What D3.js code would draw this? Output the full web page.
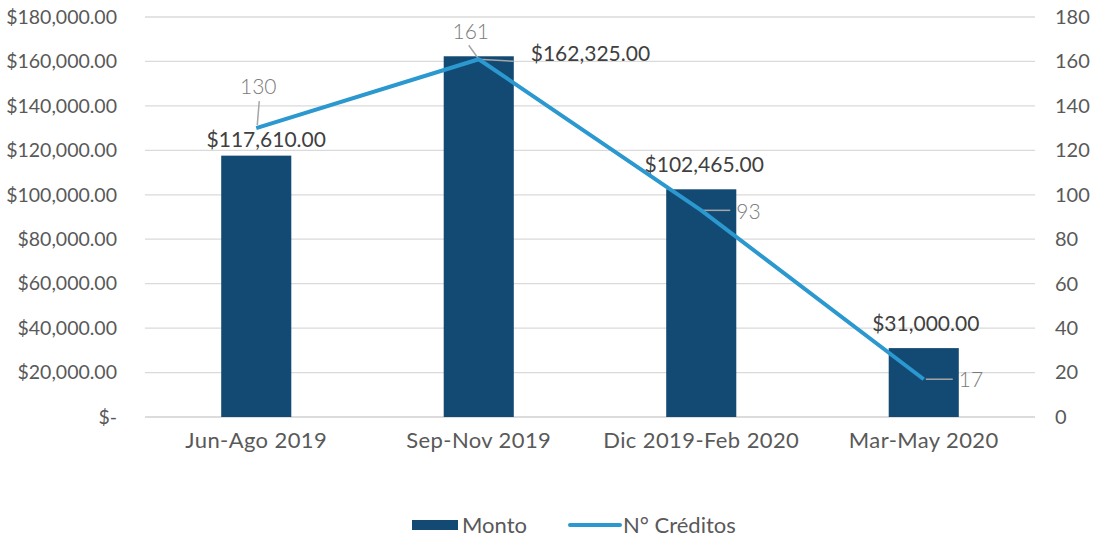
<!DOCTYPE html>
<html>
<head>
<meta charset="utf-8">
<title>Monto y N° Créditos</title>
<script src="https://cdn.jsdelivr.net/npm/d3@7"></script>
<style>
  body { margin: 0; background: #fff; }
  text { font-family: Lato, "Open Sans", sans-serif; }
</style>
</head>
<body>
<div id="chart"></div>
<script>
// data
var categories = ["Jun-Ago 2019", "Sep-Nov 2019", "Dic 2019-Feb 2020", "Mar-May 2020"];
var monto = [117610, 162325, 102465, 31000];
var creditos = [130, 161, 93, 17];
var leftTicks = [0, 20000, 40000, 60000, 80000, 100000, 120000, 140000, 160000, 180000];
var rightTicks = [0, 20, 40, 60, 80, 100, 120, 140, 160, 180];

var width = 1094, height = 539;
var plotLeft = 145, plotRight = 1035, plotTop = 17, plotBottom = 417;
var barColor = "#124a74", lineColor = "#2b98cf";

var svg = d3.select("#chart").append("svg")
  .attr("width", width)
  .attr("height", height);

var x = d3.scaleBand().domain(categories).range([plotLeft, plotRight]).paddingInner(0.685).paddingOuter(0.3425);
var yL = d3.scaleLinear().domain([0, 180000]).range([plotBottom, plotTop]);
var yR = d3.scaleLinear().domain([0, 180]).range([plotBottom, plotTop]);

var fmt = function(v) { return v === 0 ? "$-" : "$" + d3.format(",.2f")(v); };

// gridlines
svg.selectAll("line.grid").data(leftTicks).enter().append("line")
  .attr("class", "grid")
  .attr("x1", plotLeft).attr("x2", plotRight)
  .attr("y1", function(d) { return yL(d); })
  .attr("y2", function(d) { return yL(d); })
  .attr("stroke", function(d) { return d === 0 ? "#d0d0d0" : "#dadada"; })
  .attr("stroke-width", 1.3);

// left axis
var gl = svg.append("g").attr("transform", "translate(" + (plotLeft - 28) + ",0)")
  .call(d3.axisLeft(yL).tickValues(leftTicks).tickFormat(fmt).tickSize(0).tickPadding(0));
gl.select(".domain").remove();
gl.selectAll("text").attr("font-size", 19.5).attr("fill", "#595959").attr("font-family", "Lato, sans-serif");

// right axis
var gr = svg.append("g").attr("transform", "translate(" + (plotRight + 20) + ",0)")
  .call(d3.axisRight(yR).tickValues(rightTicks).tickSize(0).tickPadding(0));
gr.select(".domain").remove();
gr.selectAll("text").attr("font-size", 20).attr("fill", "#595959").attr("font-family", "Lato, sans-serif");

// bottom axis
var gb = svg.append("g").attr("transform", "translate(0," + plotBottom + ")")
  .call(d3.axisBottom(x).tickSize(0).tickPadding(15));
gb.select(".domain").remove();
gb.selectAll("text").attr("font-size", 22).attr("letter-spacing", 0.4).attr("fill", "#595959").attr("font-family", "Lato, sans-serif");

// bars
svg.selectAll("rect.bar").data(monto).enter().append("rect")
  .attr("class", "bar")
  .attr("x", function(d, i) { return x(categories[i]); })
  .attr("y", function(d) { return yL(d); })
  .attr("width", x.bandwidth())
  .attr("height", function(d) { return plotBottom - yL(d); })
  .attr("fill", barColor);

// bar labels (the second one sits to the right of the bar)
var barLabelPos = [[10, -9, "middle"], [52, 5, "start"], [3, -17, "middle"], [2, -17, "middle"]];
svg.selectAll("text.blabel").data(monto).enter().append("text")
  .attr("class", "blabel")
  .attr("x", function(d, i) { return x(categories[i]) + x.bandwidth() / 2 + barLabelPos[i][0]; })
  .attr("y", function(d, i) { return yL(d) + barLabelPos[i][1]; })
  .attr("text-anchor", function(d, i) { return barLabelPos[i][2]; })
  .attr("font-size", 21)
  .attr("fill", "#404040")
  .text(fmt);

// line
var cx = function(i) { return x(categories[i]) + x.bandwidth() / 2; };
var line = d3.line()
  .x(function(d, i) { return cx(i); })
  .y(function(d) { return yR(d); });

// leader lines for line labels
svg.selectAll("polyline.leader").data(creditos).enter().append("polyline")
  .attr("class", "leader")
  .attr("points", function(d, i) {
    var px = cx(i), py = yR(d);
    if (i === 0) return [[px + 3, py - 27], [px + 1, py - 3]].join(" ");
    if (i === 1) return [[px - 10, py - 14], [px, py], [px + 35, py + 2]].join(" ");
    return [[px + 2, py], [px + 29, py]].join(" ");
  })
  .attr("fill", "none")
  .attr("stroke", "#a6a6a6")
  .attr("stroke-width", 1.5);

svg.append("path")
  .datum(creditos)
  .attr("d", line)
  .attr("fill", "none")
  .attr("stroke", lineColor)
  .attr("stroke-width", 4)
  .attr("stroke-linejoin", "round");

// line labels
var lineLabelPos = [[2, -34, "middle"], [-8, -20, "middle"], [35, 9, "start"], [35, 8, "start"]];
svg.selectAll("text.llabel").data(creditos).enter().append("text")
  .attr("class", "llabel")
  .attr("x", function(d, i) { return cx(i) + lineLabelPos[i][0]; })
  .attr("y", function(d, i) { return yR(d) + lineLabelPos[i][1]; })
  .attr("text-anchor", function(d, i) { return lineLabelPos[i][2]; })
  .attr("font-size", 21)
  .attr("font-weight", 300)
  .attr("fill", "#7a7a7a")
  .text(function(d) { return d; });

// legend
var lg = svg.append("g").attr("transform", "translate(412,525)");
lg.append("rect").attr("x", 0).attr("y", -5).attr("width", 46).attr("height", 10).attr("fill", barColor);
lg.append("text").attr("x", 50).attr("y", 8).attr("font-size", 22).attr("fill", "#595959").text("Monto");
lg.append("line").attr("x1", 158).attr("x2", 208).attr("y1", 0).attr("y2", 0)
  .attr("stroke", lineColor).attr("stroke-width", 4).attr("stroke-linecap", "round");
lg.append("text").attr("x", 211).attr("y", 8).attr("font-size", 22).attr("fill", "#595959").text("N° Créditos");
</script>
</body>
</html>
